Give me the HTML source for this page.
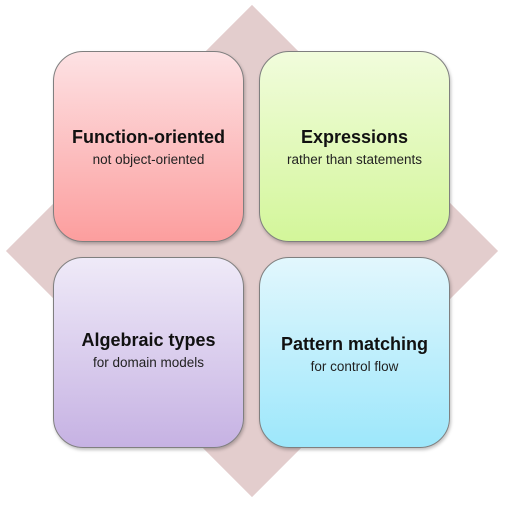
<!DOCTYPE html>
<html><head><style>
body{margin:0;background:#fff;width:505px;height:505px;position:relative;overflow:hidden;font-family:"Liberation Sans",sans-serif}
.d{position:absolute;left:78px;top:77px;width:348px;height:348px;background:#e3cdcd;transform:rotate(45deg)}
.b{position:absolute;width:191px;height:191px;border:1px solid #7f7f7f;border-radius:30px;box-shadow:1px 2px 3px rgba(0,0,0,.25);text-align:center;box-sizing:border-box}
.t{position:absolute;left:0;right:0;font-weight:bold;font-size:18px;color:#111;white-space:nowrap}
.s{position:absolute;left:0;right:0;font-size:13.5px;color:#222;white-space:nowrap}
</style></head><body>
<div class="d"></div>
<div class="b" style="left:53px;top:51px;background:linear-gradient(#fde2e4,#fc9e9e)"><div class="t" style="top:75px">Function-oriented</div><div class="s" style="top:100px">not object-oriented</div></div>
<div class="b" style="left:259px;top:51px;background:linear-gradient(#f1fcdc,#d3f69a)"><div class="t" style="top:75px">Expressions</div><div class="s" style="top:100px">rather than statements</div></div>
<div class="b" style="left:53px;top:257px;background:linear-gradient(#efeaf8,#c6b2e3)"><div class="t" style="top:72px">Algebraic types</div><div class="s" style="top:97px">for domain models</div></div>
<div class="b" style="left:259px;top:257px;background:linear-gradient(#e2f7fd,#9de7fb)"><div class="t" style="top:76px">Pattern matching</div><div class="s" style="top:101px">for control flow</div></div>
</body></html>
